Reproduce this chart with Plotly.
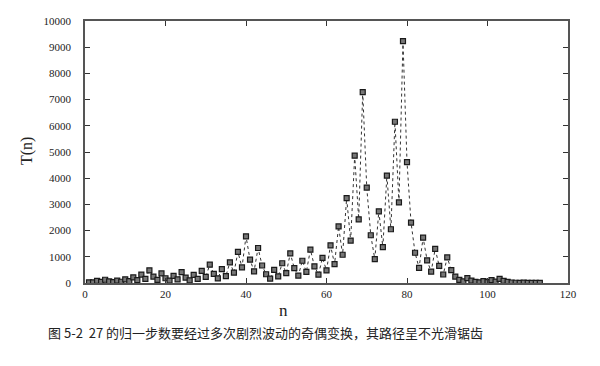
import plotly.graph_objects as go

# Collatz trajectory of 27 as plotted (n starts at 1; first plotted point estimated)
n_values = list(range(1, 114))
t_values = [27,
    27, 82, 41, 124, 62, 31, 94, 47, 142, 71, 214, 107, 322, 161, 484, 242, 121, 364, 182,
    91, 274, 137, 412, 206, 103, 310, 155, 466, 233, 700, 350, 175, 526, 263, 790, 395,
    1186, 593, 1780, 890, 445, 1336, 668, 334, 167, 502, 251, 754, 377, 1132, 566, 283,
    850, 425, 1276, 638, 319, 958, 479, 1438, 719, 2158, 1079, 3238, 1619, 4858, 2429,
    7288, 3644, 1822, 911, 2734, 1367, 4102, 2051, 6154, 3077, 9232, 4616, 2308, 1154,
    577, 1732, 866, 433, 1300, 650, 325, 976, 488, 244, 122, 61, 184, 92, 46, 23, 70, 35,
    106, 53, 160, 80, 40, 20, 10, 5, 16, 8, 4, 2, 1]

x_ticks = [0, 20, 40, 60, 80, 100, 120]
y_ticks = list(range(0, 10001, 1000))
y_tick_labels = [str(v) for v in y_ticks]

caption = "图 5-2  27 的归一步数要经过多次剧烈波动的奇偶变换，其路径呈不光滑锯齿"

fig = go.Figure()
fig.add_trace(go.Scatter(
    x=n_values, y=t_values, mode="lines+markers",
    line=dict(color="#333333", width=1, dash="dot"),
    marker=dict(symbol="square", size=5, color="#777777",
                line=dict(color="#1a1a1a", width=1.2)),
    showlegend=False,
))

axis_common = dict(
    showgrid=False, zeroline=False, showline=True, linecolor="#555555", linewidth=1.5,
    mirror="ticks", ticks="inside", ticklen=5, tickcolor="#333333", tickwidth=1,
    tickfont=dict(family="Liberation Serif", size=11, color="#222222"),
)
fig.update_xaxes(range=[0, 120], tickvals=x_ticks, **axis_common)
fig.update_yaxes(range=[0, 10000], tickvals=y_ticks, ticktext=y_tick_labels,
                 ticklabelstandoff=10, **axis_common)

fig.update_layout(
    width=600, height=366,
    margin=dict(l=77, r=40, t=7, b=91),
    plot_bgcolor="white", paper_bgcolor="white",
    annotations=[
        dict(text="T(n)", xref="paper", yref="paper", x=-0.12, y=0.504,
             xanchor="center", yanchor="middle", textangle=-90, showarrow=False,
             font=dict(family="Liberation Serif", size=16, color="#222222")),
        dict(text="n", xref="paper", yref="paper", x=0.412, y=-0.104,
             xanchor="center", yanchor="middle", showarrow=False,
             font=dict(family="Liberation Serif", size=17, color="#222222")),
        dict(text=caption, xref="paper", yref="paper", x=0.373, y=-0.19,
             xanchor="center", yanchor="middle", showarrow=False,
             font=dict(family="Noto Sans CJK SC", size=13, color="#222222")),
    ],
)

fig.write_html("out.html")
